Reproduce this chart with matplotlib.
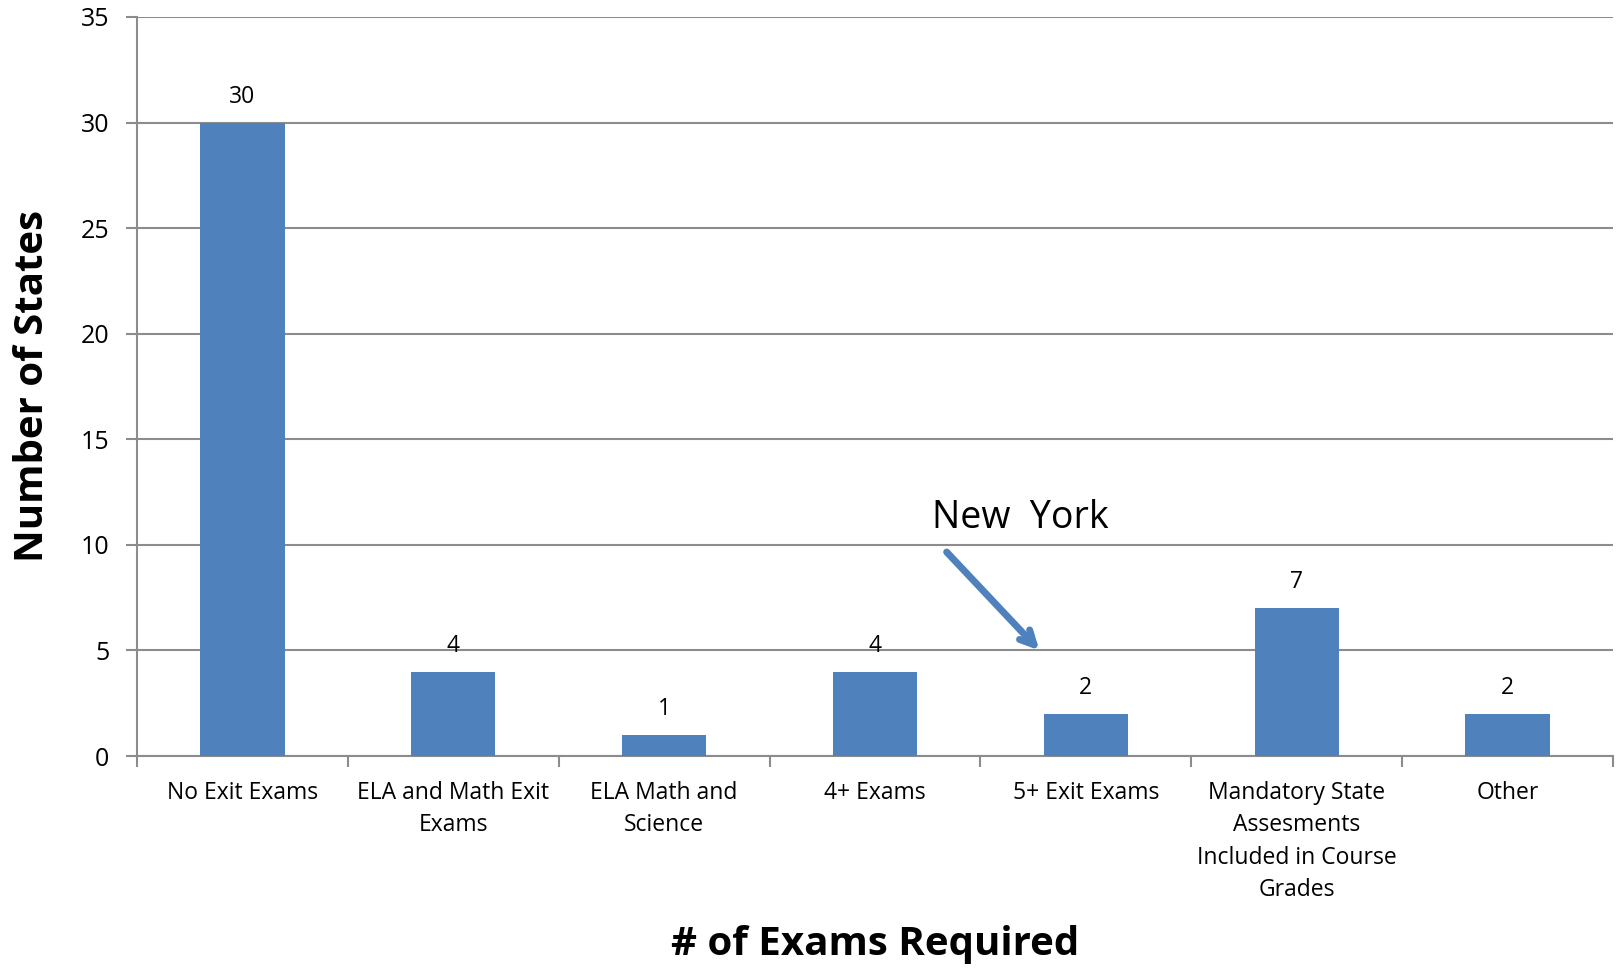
import matplotlib
matplotlib.use("Agg")
import matplotlib.pyplot as plt
from matplotlib.ticker import FixedLocator, NullFormatter

categories = ["No Exit Exams", "ELA and Math Exit\nExams", "ELA Math and\nScience", "4+ Exams",
              "5+ Exit Exams", "Mandatory State\nAssesments\nIncluded in Course\nGrades", "Other"]
values = [30, 4, 1, 4, 2, 7, 2]
yticks = [0, 5, 10, 15, 20, 25, 30, 35]

plt.rcParams['font.family'] = ['Open Sans', 'DejaVu Sans']
fig = plt.figure(figsize=(16.17, 9.68), dpi=100)
ax = fig.add_axes([0.0847, 0.219, 0.9128, 0.7635])

grid_c = "#8c8c8c"
x = list(range(len(categories)))
bars = ax.bar(x, values, width=0.4, color="#4F81BD", zorder=3)
ax.set_xlim(-0.5, len(categories) - 0.5)
ax.set_ylim(0, 35)
ax.set_yticks(yticks)
ax.tick_params(axis='y', length=8, width=1.5, color=grid_c, pad=12, labelsize=18)
ax.yaxis.grid(True, color=grid_c, linewidth=1.5, zorder=0)

ax.set_xticks(x)
ax.set_xticklabels(categories, fontsize=16.5, linespacing=1.47, va='top')
ax.tick_params(axis='x', length=0, pad=18)
ax.xaxis.set_minor_locator(FixedLocator([i - 0.5 for i in range(len(categories) + 1)]))
ax.xaxis.set_minor_formatter(NullFormatter())
ax.tick_params(axis='x', which='minor', length=8, width=1.5, color=grid_c)

for s in ['top', 'right']:
    ax.spines[s].set_visible(False)
for s in ['left', 'bottom']:
    ax.spines[s].set_color(grid_c)
    ax.spines[s].set_linewidth(1.5)

for xi, v in zip(x, values):
    ax.annotate(str(v), (xi, v), xytext=(0, 10), textcoords='offset points',
                ha='center', va='bottom', fontsize=16.5)

ax.set_ylabel("Number of States", fontsize=29, fontweight='bold', va='center', ha='center')
ax.yaxis.set_label_coords(-0.071, 0.5)
ax.set_xlabel("# of Exams Required", fontsize=29, fontweight='bold', va='center', ha='center')
ax.xaxis.set_label_coords(0.5, -0.255)

ax.annotate("", xy=(3.78, 5.0), xytext=(3.34, 9.66),
            arrowprops=dict(arrowstyle="->,head_length=1.0,head_width=0.5", color="#4F81BD", lw=5,
                            shrinkA=0, shrinkB=0), zorder=5)
ax.text(3.27, 11.27, "New  York", fontsize=27, va='center', ha='left')

fig.savefig("out.png", dpi=100)
